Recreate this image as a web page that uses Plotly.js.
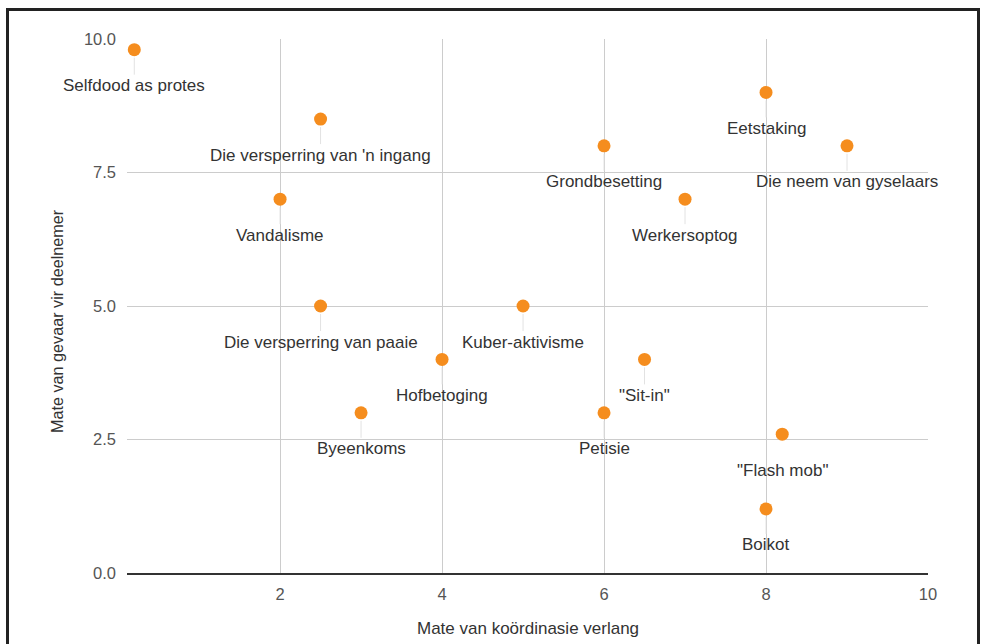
<!DOCTYPE html>
<html><head><meta charset="utf-8">
<script src="https://cdn.plot.ly/plotly-3.0.1.min.js"></script>
<style>
html,body{margin:0;padding:0;background:#fff;}
#chart{width:989px;height:644px;}
#frame{position:absolute;left:6px;top:8px;width:968px;height:660px;border:3px solid #222;pointer-events:none;}
</style></head>
<body>
<div id="chart"></div>
<div id="frame"></div>
<script>
const labels = ["Selfdood as protes","Die versperring van 'n ingang","Eetstaking","Die neem van gyselaars","Grondbesetting","Vandalisme","Werkersoptog","Die versperring van paaie","Kuber-aktivisme","Hofbetoging","\"Sit-in\"","Byeenkoms","Petisie","\"Flash mob\"","Boikot"];
const coordination = [0.2, 2.5, 8, 9, 6, 2, 7, 2.5, 5, 4, 6.5, 3, 6, 8.2, 8];
const danger = [9.8, 8.5, 9, 8, 8, 7, 7, 5, 5, 4, 4, 3, 3, 2.6, 1.2];
const xTicks = [2, 4, 6, 8, 10];
const yTicks = [0, 2.5, 5, 7.5, 10];
const xTitle = 'Mate van koördinasie verlang';
const yTitle = 'Mate van gevaar vir deelnemer';

const FONT = 'Liberation Sans, Arial, Helvetica, sans-serif';
const trace = {
  x: coordination, y: danger, mode: 'markers', type: 'scatter',
  marker: {color: '#F58D1E', size: 13},
  hoverinfo: 'skip', cliponaxis: false
};
const annotations = labels.map((t, i) => ({
  x: coordination[i], y: danger[i], xref: 'x', yref: 'y',
  text: t, showarrow: true, arrowhead: 0, arrowwidth: 1, arrowcolor: '#e2e2e2',
  ax: 0, ay: 36, standoff: 8,
  font: {family: FONT, size: 17, color: '#333'}
}));
annotations.push({
  text: xTitle, xref: 'paper', yref: 'paper', x: 0.5, y: 0,
  xanchor: 'center', yanchor: 'middle', yshift: -55, showarrow: false,
  font: {family: FONT, size: 17, color: '#333'}
});
annotations.push({
  text: yTitle, xref: 'paper', yref: 'paper', x: 0, y: 0.5, textangle: -90,
  xanchor: 'center', yanchor: 'middle', xshift: -70, yshift: -15, showarrow: false,
  font: {family: FONT, size: 16.2, color: '#333'}
});
const layout = {
  width: 989, height: 644,
  margin: {l: 127, r: 61, t: 39, b: 71},
  paper_bgcolor: '#fff', plot_bgcolor: '#fff',
  showlegend: false,
  xaxis: {
    range: [0.11, 10], tickvals: xTicks, ticktext: xTicks.map(String),
    showgrid: true, gridcolor: '#cccccc', gridwidth: 1, zeroline: false,
    showline: true, linecolor: '#333', linewidth: 2, ticks: '',
    ticklabelstandoff: 5,
    tickfont: {family: FONT, size: 16.5, color: '#555'}
  },
  yaxis: {
    range: [0, 10], tickvals: yTicks, ticktext: yTicks.map(v => v.toFixed(1)),
    showgrid: true, gridcolor: '#cccccc', gridwidth: 1, zeroline: false,
    showline: false, ticks: '', ticklen: 0,
    ticklabelstandoff: 10,
    tickfont: {family: FONT, size: 16.5, color: '#555'}
  },
  annotations: annotations
};
Plotly.newPlot('chart', [trace], layout, {displayModeBar: false, staticPlot: true});
</script>
</body></html>
